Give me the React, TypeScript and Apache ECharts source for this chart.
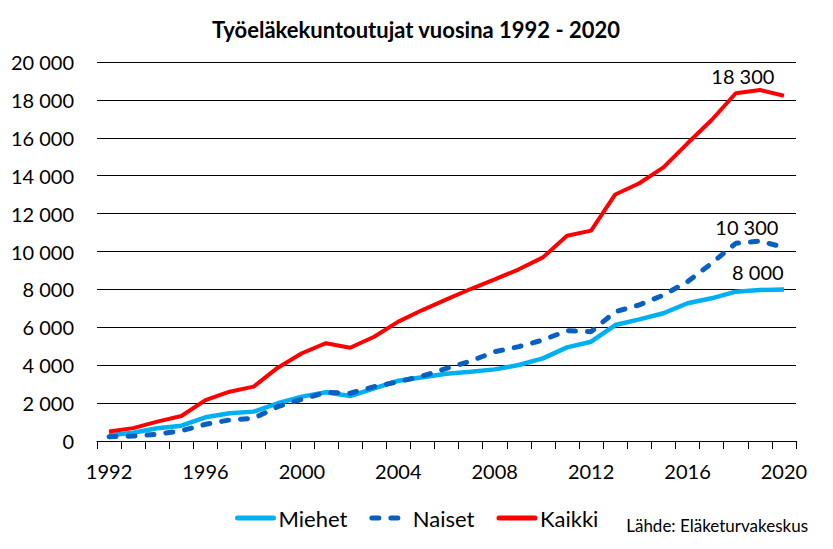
import React, { useEffect, useRef } from "react";
import * as echarts from "echarts";

const years = [
  "1992", "1993", "1994", "1995", "1996", "1997", "1998", "1999", "2000", "2001",
  "2002", "2003", "2004", "2005", "2006", "2007", "2008", "2009", "2010", "2011",
  "2012", "2013", "2014", "2015", "2016", "2017", "2018", "2019", "2020",
];
const miehet = [
  300, 440, 670, 810, 1250, 1460, 1550, 1990, 2340, 2570,
  2370, 2780, 3180, 3360, 3550, 3650, 3780, 4010, 4360, 4940,
  5240, 6120, 6420, 6740, 7270, 7530, 7880, 7970, 8000,
];
const naiset = [
  230, 260, 350, 540, 880, 1110, 1200, 1810, 2200, 2570,
  2520, 2870, 3130, 3430, 3830, 4220, 4710, 4980, 5330, 5820,
  5770, 6820, 7180, 7700, 8410, 9380, 10430, 10550, 10220,
];
const kaikki = [
  500, 680, 1020, 1320, 2160, 2600, 2870, 3870, 4630, 5160,
  4920, 5500, 6300, 6910, 7470, 8020, 8530, 9060, 9690, 10830,
  11100, 13010, 13600, 14440, 15710, 16940, 18350, 18520, 18220,
];
const endLabels = { miehet: "8 000", naiset: "10 300", kaikki: "18 300" };
const endValues = { miehet: 8000, naiset: 10300, kaikki: 18300 };

const FONT = "Lato, 'Noto Sans', sans-serif";
const fmt = (v: number) => String(v).replace(/\B(?=(\d{3})+(?!\d))/g, " ");

export default function App() {
  const ref = useRef<HTMLDivElement>(null);
  useEffect(() => {
    const chart = echarts.init(ref.current!, null, { renderer: "svg" });
    const mk = (text: string, value: number, offset: number[]) => ({
      symbol: "circle",
      symbolSize: 0,
      data: [{ coord: ["2019", value], value }],
      label: {
        show: true,
        position: "inside",
        offset,
        formatter: text,
        color: "#000",
        fontSize: 20,
        fontFamily: FONT,
      },
    });
    chart.setOption({
      animation: false,
      textStyle: { fontFamily: FONT },
      title: {
        text: "Työeläkekuntoutujat vuosina 1992 - 2020",
        left: 411,
        textAlign: "center",
        top: 13,
        textStyle: { fontSize: 22, fontWeight: "bold", color: "#000", fontFamily: FONT },
      },
      grid: { left: 97, right: 37, top: 62, bottom: 108, containLabel: false },
      legend: {
        left: 230,
        top: 502,
        itemWidth: 36,
        itemHeight: 14,
        itemGap: 22,
        itemStyle: { opacity: 0 },
        lineStyle: { width: 5, cap: "round" },
        textStyle: { fontSize: 22, color: "#000", fontFamily: FONT },
        data: ["Miehet", "Naiset", "Kaikki"],
      },
      xAxis: {
        type: "category",
        data: years,
        boundaryGap: true,
        axisLine: { lineStyle: { color: "#000", width: 1 } },
        axisTick: { show: true, interval: 0, length: 8, lineStyle: { color: "#000" } },
        axisLabel: { interval: 3, margin: 20, fontSize: 20, color: "#000", fontFamily: FONT },
      },
      yAxis: {
        type: "value",
        min: 0,
        max: 20000,
        interval: 2000,
        axisLine: { show: false },
        axisTick: { show: false },
        splitLine: { lineStyle: { color: "#000", width: 1 } },
        axisLabel: { margin: 23, fontSize: 20, color: "#000", fontFamily: FONT, formatter: fmt },
      },
      series: [
        {
          name: "Miehet",
          type: "line",
          data: miehet,
          symbol: "none",
          showSymbol: false,
          lineStyle: { color: "#00B0F0", width: 4.5 },
          itemStyle: { color: "#00B0F0" },
          markPoint: mk(endLabels.miehet, endValues.miehet, [-2, -17]),
        },
        {
          name: "Naiset",
          type: "line",
          data: naiset,
          symbol: "none",
          showSymbol: false,
          lineStyle: { color: "#0A5FC0", width: 5, type: [7, 12], cap: "round" },
          itemStyle: { color: "#0A5FC0" },
          markPoint: mk(endLabels.naiset, endValues.naiset, [-13, -19]),
        },
        {
          name: "Kaikki",
          type: "line",
          data: kaikki,
          symbol: "none",
          showSymbol: false,
          lineStyle: { color: "#FF0000", width: 4 },
          itemStyle: { color: "#FF0000" },
          markPoint: mk(endLabels.kaikki, endValues.kaikki, [-17, -18]),
        },
      ],
      graphic: [
        {
          type: "text",
          right: 25,
          top: 517,
          style: { text: "Lähde: Eläketurvakeskus", fontSize: 17, fill: "#000", fontFamily: FONT },
        },
      ],
    });
    return () => chart.dispose();
  }, []);
  return (
    <div
      ref={ref}
      style={{ position: "absolute", left: 0, top: 0, width: 833, height: 549 }}
    />
  );
}
